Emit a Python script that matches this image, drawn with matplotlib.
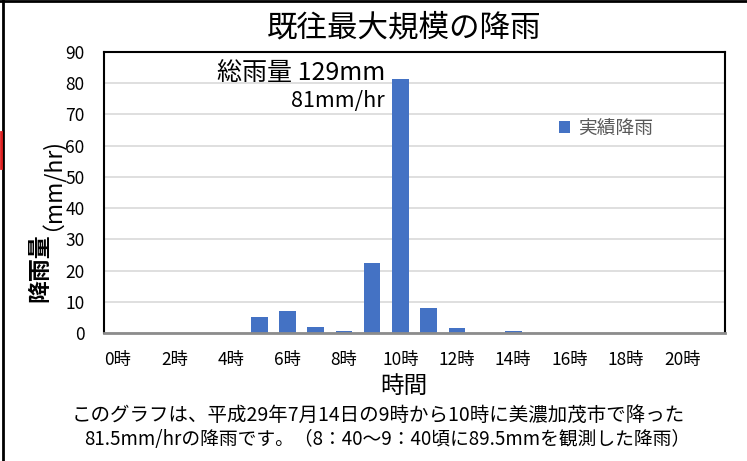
import matplotlib
matplotlib.use("Agg")
import matplotlib.pyplot as plt
from matplotlib.lines import Line2D

plt.rcParams['font.family'] = ['Noto Sans CJK JP', 'DejaVu Sans']

hours = list(range(22))
rain = [0, 0, 0, 0, 0, 5.0, 7.0, 2.0, 0.5, 22.5, 81.5, 8.0, 1.5, 0, 0.5, 0, 0, 0, 0, 0, 0, 0]
tick_hours = list(range(0, 22, 2))
tick_labels = [f"{h}時" for h in tick_hours]
series_name = "実績降雨"
title = "既往最大規模の降雨"
ylabel_main = "降雨量"
ylabel_unit = "（mm/hr)"
xlabel = "時間"
note1 = "総雨量 129mm"
note2 = "81mm/hr"
foot1 = "このグラフは、平成29年7月14日の9時から10時に美濃加茂市で降った"
foot2 = "81.5mm/hrの降雨です。（8：40～9：40頃に89.5mmを観測した降雨）"

W, H = 747, 461
fig = plt.figure(figsize=(W/100, H/100), dpi=100)
ax = fig.add_axes([104/W, 1-333/H, (725-104)/W, (333-52)/H])

ax.bar(hours, rain, width=0.59, color='#4472C4', label=series_name, zorder=3)
ax.set_xlim(-0.5, 21.5)
ax.set_ylim(0, 90)
ax.set_yticks(range(0, 91, 10))
ax.set_xticks(tick_hours)
ax.set_xticklabels(tick_labels)
ax.tick_params(axis='both', length=0, labelsize=12.5)
ax.tick_params(axis='x', pad=13)
ax.tick_params(axis='y', pad=14)
ax.grid(axis='y', color='#D9D9D9', linewidth=1.2, zorder=0)
for s in ['top', 'left', 'right']:
    ax.spines[s].set_color('black')
    ax.spines[s].set_linewidth(1.5)
ax.spines['bottom'].set_color('#8C8C8C')
ax.spines['bottom'].set_linewidth(2)
ax.spines['bottom'].set_zorder(4)

fig.text(404/W, 1-28/H, title, ha='center', va='center', fontsize=22)
fig.text(40/W, 1-268/H, ylabel_main, ha='center', va='center', rotation=90,
         fontsize=16.5, fontweight='bold')
fig.text(40/W, 1-178/H, ylabel_unit, ha='center', va='center', rotation=90, fontsize=16.5)
fig.text(404/W, 1-386/H, xlabel, ha='center', va='center', fontsize=17)
fig.text(385/W, 1-73/H, note1, ha='right', va='center', fontsize=18)
fig.text(385/W, 1-101/H, note2, ha='right', va='center', fontsize=15.5)
fig.text(378/W, 1-415/H, foot1, ha='center', va='center', fontsize=14)
fig.text(387/W, 1-439/H, foot2, ha='center', va='center', fontsize=13.5)

leg = ax.legend(loc='upper left', bbox_to_anchor=((559-104)/(725-104), 1-(118-52)/(333-52)),
                frameon=False, fontsize=13.5, handlelength=0.6, handleheight=0.6,
                handletextpad=0.4, borderpad=0, borderaxespad=0)
for t in leg.get_texts():
    t.set_color('#595959')

# outer frame lines
fig.add_artist(Line2D([3/W, 3/W], [0, 1], color='black', linewidth=2, transform=fig.transFigure))
fig.add_artist(Line2D([0, 1], [1-1/H, 1-1/H], color='black', linewidth=2, transform=fig.transFigure))
fig.add_artist(Line2D([0.8/W, 0.8/W], [1-168/H, 1-132/H], color='#E02020', linewidth=2, transform=fig.transFigure))

fig.savefig('out.png', dpi=100)
